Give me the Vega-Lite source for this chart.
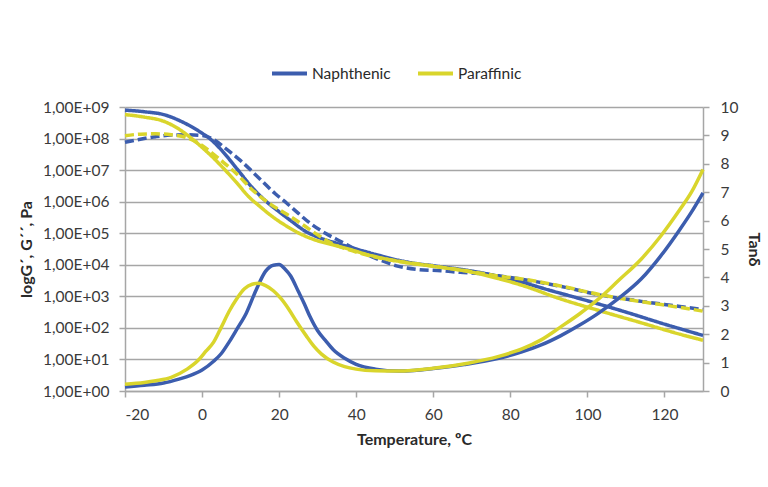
{
  "$schema": "https://vega.github.io/schema/vega-lite/v6.json",
  "width": 578,
  "height": 284,
  "autosize": {"type": "none"},
  "padding": {"left": 125, "top": 107, "right": 65, "bottom": 96},
  "background": "white",
  "datasets": {
    "g": [
      {"T": -20, "oil": "Naphthenic", "prop": "G1", "v": 8.90},
      {"T": -15, "oil": "Naphthenic", "prop": "G1", "v": 8.85},
      {"T": -10, "oil": "Naphthenic", "prop": "G1", "v": 8.76},
      {"T": -5, "oil": "Naphthenic", "prop": "G1", "v": 8.52},
      {"T": 0, "oil": "Naphthenic", "prop": "G1", "v": 8.17},
      {"T": 2, "oil": "Naphthenic", "prop": "G1", "v": 8.00},
      {"T": 5, "oil": "Naphthenic", "prop": "G1", "v": 7.64},
      {"T": 9, "oil": "Naphthenic", "prop": "G1", "v": 7.05},
      {"T": 13, "oil": "Naphthenic", "prop": "G1", "v": 6.45},
      {"T": 17, "oil": "Naphthenic", "prop": "G1", "v": 5.97},
      {"T": 20, "oil": "Naphthenic", "prop": "G1", "v": 5.68},
      {"T": 23, "oil": "Naphthenic", "prop": "G1", "v": 5.40},
      {"T": 27, "oil": "Naphthenic", "prop": "G1", "v": 5.05},
      {"T": 30, "oil": "Naphthenic", "prop": "G1", "v": 4.88},
      {"T": 35, "oil": "Naphthenic", "prop": "G1", "v": 4.68},
      {"T": 40, "oil": "Naphthenic", "prop": "G1", "v": 4.50},
      {"T": 45, "oil": "Naphthenic", "prop": "G1", "v": 4.33},
      {"T": 50, "oil": "Naphthenic", "prop": "G1", "v": 4.17},
      {"T": 55, "oil": "Naphthenic", "prop": "G1", "v": 4.05},
      {"T": 60, "oil": "Naphthenic", "prop": "G1", "v": 3.97},
      {"T": 70, "oil": "Naphthenic", "prop": "G1", "v": 3.80},
      {"T": 80, "oil": "Naphthenic", "prop": "G1", "v": 3.55},
      {"T": 90, "oil": "Naphthenic", "prop": "G1", "v": 3.20},
      {"T": 100, "oil": "Naphthenic", "prop": "G1", "v": 2.86},
      {"T": 110, "oil": "Naphthenic", "prop": "G1", "v": 2.50},
      {"T": 120, "oil": "Naphthenic", "prop": "G1", "v": 2.12},
      {"T": 130, "oil": "Naphthenic", "prop": "G1", "v": 1.76},

      {"T": -20, "oil": "Naphthenic", "prop": "G2", "v": 7.88},
      {"T": -16, "oil": "Naphthenic", "prop": "G2", "v": 7.98},
      {"T": -12, "oil": "Naphthenic", "prop": "G2", "v": 8.06},
      {"T": -8, "oil": "Naphthenic", "prop": "G2", "v": 8.11},
      {"T": -4, "oil": "Naphthenic", "prop": "G2", "v": 8.12},
      {"T": 0, "oil": "Naphthenic", "prop": "G2", "v": 8.10},
      {"T": 3, "oil": "Naphthenic", "prop": "G2", "v": 7.97},
      {"T": 6, "oil": "Naphthenic", "prop": "G2", "v": 7.70},
      {"T": 10, "oil": "Naphthenic", "prop": "G2", "v": 7.30},
      {"T": 15, "oil": "Naphthenic", "prop": "G2", "v": 6.72},
      {"T": 19, "oil": "Naphthenic", "prop": "G2", "v": 6.25},
      {"T": 22, "oil": "Naphthenic", "prop": "G2", "v": 5.95},
      {"T": 25, "oil": "Naphthenic", "prop": "G2", "v": 5.63},
      {"T": 28, "oil": "Naphthenic", "prop": "G2", "v": 5.32},
      {"T": 32, "oil": "Naphthenic", "prop": "G2", "v": 5.00},
      {"T": 36, "oil": "Naphthenic", "prop": "G2", "v": 4.74},
      {"T": 41, "oil": "Naphthenic", "prop": "G2", "v": 4.42},
      {"T": 46, "oil": "Naphthenic", "prop": "G2", "v": 4.16},
      {"T": 51, "oil": "Naphthenic", "prop": "G2", "v": 3.95},
      {"T": 56, "oil": "Naphthenic", "prop": "G2", "v": 3.85},
      {"T": 62, "oil": "Naphthenic", "prop": "G2", "v": 3.81},
      {"T": 67, "oil": "Naphthenic", "prop": "G2", "v": 3.76},
      {"T": 72, "oil": "Naphthenic", "prop": "G2", "v": 3.72},
      {"T": 77, "oil": "Naphthenic", "prop": "G2", "v": 3.65},
      {"T": 83, "oil": "Naphthenic", "prop": "G2", "v": 3.54},
      {"T": 93, "oil": "Naphthenic", "prop": "G2", "v": 3.32},
      {"T": 103, "oil": "Naphthenic", "prop": "G2", "v": 3.05},
      {"T": 114, "oil": "Naphthenic", "prop": "G2", "v": 2.84},
      {"T": 124, "oil": "Naphthenic", "prop": "G2", "v": 2.68},
      {"T": 130, "oil": "Naphthenic", "prop": "G2", "v": 2.58},

      {"T": -20, "oil": "Paraffinic", "prop": "G1", "v": 8.76},
      {"T": -15, "oil": "Paraffinic", "prop": "G1", "v": 8.68},
      {"T": -10, "oil": "Paraffinic", "prop": "G1", "v": 8.55},
      {"T": -6, "oil": "Paraffinic", "prop": "G1", "v": 8.30},
      {"T": -3, "oil": "Paraffinic", "prop": "G1", "v": 8.03},
      {"T": 0, "oil": "Paraffinic", "prop": "G1", "v": 7.72},
      {"T": 3, "oil": "Paraffinic", "prop": "G1", "v": 7.38},
      {"T": 6, "oil": "Paraffinic", "prop": "G1", "v": 7.00},
      {"T": 9, "oil": "Paraffinic", "prop": "G1", "v": 6.60},
      {"T": 12, "oil": "Paraffinic", "prop": "G1", "v": 6.17},
      {"T": 15, "oil": "Paraffinic", "prop": "G1", "v": 5.85},
      {"T": 18, "oil": "Paraffinic", "prop": "G1", "v": 5.55},
      {"T": 22, "oil": "Paraffinic", "prop": "G1", "v": 5.22},
      {"T": 26, "oil": "Paraffinic", "prop": "G1", "v": 4.95},
      {"T": 30, "oil": "Paraffinic", "prop": "G1", "v": 4.76},
      {"T": 34, "oil": "Paraffinic", "prop": "G1", "v": 4.63},
      {"T": 38, "oil": "Paraffinic", "prop": "G1", "v": 4.50},
      {"T": 43, "oil": "Paraffinic", "prop": "G1", "v": 4.32},
      {"T": 51, "oil": "Paraffinic", "prop": "G1", "v": 4.11},
      {"T": 60, "oil": "Paraffinic", "prop": "G1", "v": 3.95},
      {"T": 69, "oil": "Paraffinic", "prop": "G1", "v": 3.79},
      {"T": 77, "oil": "Paraffinic", "prop": "G1", "v": 3.56},
      {"T": 83, "oil": "Paraffinic", "prop": "G1", "v": 3.35},
      {"T": 93, "oil": "Paraffinic", "prop": "G1", "v": 2.92},
      {"T": 103, "oil": "Paraffinic", "prop": "G1", "v": 2.55},
      {"T": 114, "oil": "Paraffinic", "prop": "G1", "v": 2.16},
      {"T": 124, "oil": "Paraffinic", "prop": "G1", "v": 1.80},
      {"T": 130, "oil": "Paraffinic", "prop": "G1", "v": 1.61},

      {"T": -20, "oil": "Paraffinic", "prop": "G2", "v": 8.09},
      {"T": -16, "oil": "Paraffinic", "prop": "G2", "v": 8.14},
      {"T": -12, "oil": "Paraffinic", "prop": "G2", "v": 8.15},
      {"T": -8, "oil": "Paraffinic", "prop": "G2", "v": 8.12},
      {"T": -4, "oil": "Paraffinic", "prop": "G2", "v": 8.03},
      {"T": 0, "oil": "Paraffinic", "prop": "G2", "v": 7.78},
      {"T": 3, "oil": "Paraffinic", "prop": "G2", "v": 7.50},
      {"T": 5, "oil": "Paraffinic", "prop": "G2", "v": 7.30},
      {"T": 9, "oil": "Paraffinic", "prop": "G2", "v": 6.88},
      {"T": 13, "oil": "Paraffinic", "prop": "G2", "v": 6.38},
      {"T": 18, "oil": "Paraffinic", "prop": "G2", "v": 5.90},
      {"T": 22, "oil": "Paraffinic", "prop": "G2", "v": 5.60},
      {"T": 26, "oil": "Paraffinic", "prop": "G2", "v": 5.28},
      {"T": 30, "oil": "Paraffinic", "prop": "G2", "v": 4.95},
      {"T": 34, "oil": "Paraffinic", "prop": "G2", "v": 4.66},
      {"T": 38, "oil": "Paraffinic", "prop": "G2", "v": 4.48},
      {"T": 43, "oil": "Paraffinic", "prop": "G2", "v": 4.30},
      {"T": 51, "oil": "Paraffinic", "prop": "G2", "v": 4.11},
      {"T": 60, "oil": "Paraffinic", "prop": "G2", "v": 3.96},
      {"T": 69, "oil": "Paraffinic", "prop": "G2", "v": 3.80},
      {"T": 77, "oil": "Paraffinic", "prop": "G2", "v": 3.64},
      {"T": 83, "oil": "Paraffinic", "prop": "G2", "v": 3.55},
      {"T": 93, "oil": "Paraffinic", "prop": "G2", "v": 3.33},
      {"T": 103, "oil": "Paraffinic", "prop": "G2", "v": 3.06},
      {"T": 114, "oil": "Paraffinic", "prop": "G2", "v": 2.83},
      {"T": 124, "oil": "Paraffinic", "prop": "G2", "v": 2.65},
      {"T": 130, "oil": "Paraffinic", "prop": "G2", "v": 2.53}
    ],
    "t": [
      {"T": -20, "oil": "Naphthenic", "v": 0.14},
      {"T": -15, "oil": "Naphthenic", "v": 0.20},
      {"T": -10, "oil": "Naphthenic", "v": 0.28},
      {"T": -6, "oil": "Naphthenic", "v": 0.42},
      {"T": -3, "oil": "Naphthenic", "v": 0.55},
      {"T": 0, "oil": "Naphthenic", "v": 0.74},
      {"T": 3, "oil": "Naphthenic", "v": 1.05},
      {"T": 5, "oil": "Naphthenic", "v": 1.32},
      {"T": 7, "oil": "Naphthenic", "v": 1.72},
      {"T": 9, "oil": "Naphthenic", "v": 2.17},
      {"T": 11.5, "oil": "Naphthenic", "v": 2.75},
      {"T": 14, "oil": "Naphthenic", "v": 3.55},
      {"T": 16.5, "oil": "Naphthenic", "v": 4.22},
      {"T": 18.5, "oil": "Naphthenic", "v": 4.43},
      {"T": 20, "oil": "Naphthenic", "v": 4.45},
      {"T": 21.5, "oil": "Naphthenic", "v": 4.30},
      {"T": 23, "oil": "Naphthenic", "v": 4.05},
      {"T": 25, "oil": "Naphthenic", "v": 3.50},
      {"T": 26.5, "oil": "Naphthenic", "v": 3.08},
      {"T": 28, "oil": "Naphthenic", "v": 2.62},
      {"T": 30, "oil": "Naphthenic", "v": 2.12},
      {"T": 32, "oil": "Naphthenic", "v": 1.78},
      {"T": 34, "oil": "Naphthenic", "v": 1.46},
      {"T": 37, "oil": "Naphthenic", "v": 1.15},
      {"T": 40, "oil": "Naphthenic", "v": 0.94},
      {"T": 45, "oil": "Naphthenic", "v": 0.77},
      {"T": 51, "oil": "Naphthenic", "v": 0.70},
      {"T": 55, "oil": "Naphthenic", "v": 0.72},
      {"T": 60, "oil": "Naphthenic", "v": 0.79},
      {"T": 68, "oil": "Naphthenic", "v": 0.93},
      {"T": 77, "oil": "Naphthenic", "v": 1.15},
      {"T": 83, "oil": "Naphthenic", "v": 1.38},
      {"T": 88, "oil": "Naphthenic", "v": 1.62},
      {"T": 93, "oil": "Naphthenic", "v": 1.94},
      {"T": 98, "oil": "Naphthenic", "v": 2.32},
      {"T": 103, "oil": "Naphthenic", "v": 2.75},
      {"T": 108, "oil": "Naphthenic", "v": 3.25},
      {"T": 114, "oil": "Naphthenic", "v": 3.95},
      {"T": 119, "oil": "Naphthenic", "v": 4.75},
      {"T": 124, "oil": "Naphthenic", "v": 5.69},
      {"T": 127, "oil": "Naphthenic", "v": 6.30},
      {"T": 130, "oil": "Naphthenic", "v": 6.98},

      {"T": -20, "oil": "Paraffinic", "v": 0.24},
      {"T": -15, "oil": "Paraffinic", "v": 0.30},
      {"T": -12, "oil": "Paraffinic", "v": 0.36},
      {"T": -8, "oil": "Paraffinic", "v": 0.48},
      {"T": -4, "oil": "Paraffinic", "v": 0.76},
      {"T": -1, "oil": "Paraffinic", "v": 1.08},
      {"T": 1, "oil": "Paraffinic", "v": 1.40},
      {"T": 3, "oil": "Paraffinic", "v": 1.72},
      {"T": 5, "oil": "Paraffinic", "v": 2.25},
      {"T": 7, "oil": "Paraffinic", "v": 2.80},
      {"T": 9, "oil": "Paraffinic", "v": 3.25},
      {"T": 11, "oil": "Paraffinic", "v": 3.60},
      {"T": 13, "oil": "Paraffinic", "v": 3.76},
      {"T": 14.5, "oil": "Paraffinic", "v": 3.79},
      {"T": 16.5, "oil": "Paraffinic", "v": 3.71},
      {"T": 18.5, "oil": "Paraffinic", "v": 3.53},
      {"T": 20.5, "oil": "Paraffinic", "v": 3.25},
      {"T": 22.5, "oil": "Paraffinic", "v": 2.88},
      {"T": 24.5, "oil": "Paraffinic", "v": 2.45},
      {"T": 27, "oil": "Paraffinic", "v": 1.95},
      {"T": 29, "oil": "Paraffinic", "v": 1.58},
      {"T": 31, "oil": "Paraffinic", "v": 1.30},
      {"T": 34, "oil": "Paraffinic", "v": 1.02},
      {"T": 37, "oil": "Paraffinic", "v": 0.86},
      {"T": 40, "oil": "Paraffinic", "v": 0.77},
      {"T": 45, "oil": "Paraffinic", "v": 0.71},
      {"T": 51, "oil": "Paraffinic", "v": 0.70},
      {"T": 60, "oil": "Paraffinic", "v": 0.80},
      {"T": 69, "oil": "Paraffinic", "v": 0.98},
      {"T": 77, "oil": "Paraffinic", "v": 1.22},
      {"T": 83, "oil": "Paraffinic", "v": 1.48},
      {"T": 88, "oil": "Paraffinic", "v": 1.80},
      {"T": 93, "oil": "Paraffinic", "v": 2.25},
      {"T": 98, "oil": "Paraffinic", "v": 2.72},
      {"T": 103, "oil": "Paraffinic", "v": 3.25},
      {"T": 108, "oil": "Paraffinic", "v": 3.88},
      {"T": 114, "oil": "Paraffinic", "v": 4.65},
      {"T": 119, "oil": "Paraffinic", "v": 5.45},
      {"T": 124, "oil": "Paraffinic", "v": 6.39},
      {"T": 127, "oil": "Paraffinic", "v": 7.00},
      {"T": 130, "oil": "Paraffinic", "v": 7.80}
    ]
  },
  "layer": [
    {
      "data": {"name": "g"},
      "mark": {"type": "line", "interpolate": "monotone", "strokeWidth": 3.5},
      "encoding": {
        "x": {
          "field": "T", "type": "quantitative",
          "scale": {"domain": [-20, 130], "nice": false, "zero": false},
          "axis": {"values": [-20, 0, 20, 40, 60, 80, 100, 120], "labelExpr": "(datum.value < 0 ? '-' : '') + abs(datum.value)", "grid": false, "title": "Temperature, ºC", "labelPadding": 10, "titlePadding": 9}
        },
        "y": {
          "field": "v", "type": "quantitative",
          "scale": {"domain": [0, 9], "nice": false, "zero": false},
          "axis": {"orient": "left", "values": [0, 1, 2, 3, 4, 5, 6, 7, 8, 9], "labelExpr": "'1,00E+0' + datum.value", "grid": true, "title": "logG´, G´´, Pa", "labelPadding": 10, "titlePadding": 8}
        },
        "color": {
          "field": "oil", "type": "nominal",
          "scale": {"domain": ["Naphthenic", "Paraffinic"], "range": ["#3C5DAE", "#D9D52C"]},
          "legend": {"orient": "none", "legendX": 145, "legendY": -53, "direction": "horizontal", "title": null, "symbolType": "stroke", "symbolSize": 1225, "symbolStrokeWidth": 4, "labelFontSize": 15.5, "labelOffset": 3, "columnPadding": 19}
        },
        "strokeDash": {
          "field": "prop", "type": "nominal",
          "scale": {"domain": ["G1", "G2"], "range": [[1, 0], [9, 4]]},
          "legend": null
        }
      }
    },
    {
      "data": {"name": "t"},
      "mark": {"type": "line", "interpolate": "monotone", "strokeWidth": 3.5},
      "encoding": {
        "x": {"field": "T", "type": "quantitative"},
        "y": {
          "field": "v", "type": "quantitative",
          "scale": {"domain": [0, 10], "nice": false, "zero": false},
          "axis": {"orient": "right", "values": [0, 1, 2, 3, 4, 5, 6, 7, 8, 9, 10], "grid": false, "title": "Tanδ", "labelPadding": 11, "titlePadding": 8}
        },
        "color": {"field": "oil", "type": "nominal"}
      }
    }
  ],
  "resolve": {"scale": {"y": "independent"}},
  "config": {
    "font": "Lato",
    "view": {"stroke": null},
    "axis": {
      "labelFont": "Lato", "labelFontSize": 15.5, "labelColor": "#3a3a3a",
      "titleFont": "Lato", "titleFontSize": 16, "titleFontWeight": "bold", "titleColor": "#2a2a2a",
      "domainColor": "#A6A6A6", "domainWidth": 1.5, "tickColor": "#A6A6A6", "tickWidth": 1.5, "tickSize": 6,
      "gridColor": "#A6A6A6", "gridWidth": 1.3
    },
    "legend": {"labelFont": "Lato", "labelColor": "#2a2a2a"}
  }
}
